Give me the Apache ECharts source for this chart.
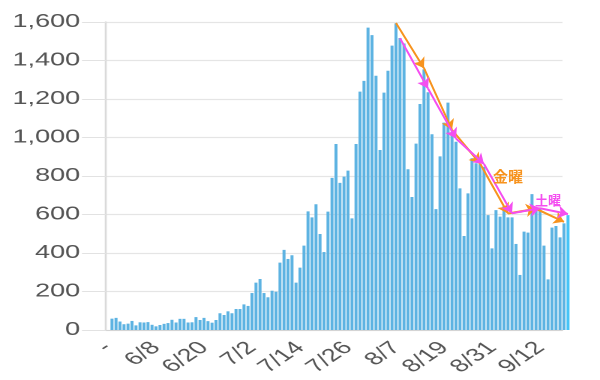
<!DOCTYPE html>
<html><head><meta charset="utf-8">
<script src="https://cdn.jsdelivr.net/npm/echarts@6/dist/echarts.min.js"></script>
<style>
html,body{margin:0;padding:0;background:#fff;}
#wrap{position:relative;width:600px;height:380px;overflow:hidden;background:#fff;}
#base{position:absolute;left:0;top:0;width:400px;height:380px;transform:scaleX(1.5);transform-origin:0 0;}
#over{position:absolute;left:0;top:0;width:600px;height:380px;}
</style></head><body>
<div id="wrap"><div id="base"></div><div id="over"></div></div>
<script>
// ---- data ----
const datesMay = ['5/27','5/28','5/29','5/30','5/31'];
const datesJun = ['6/1','6/2','6/3','6/4','6/5','6/6','6/7','6/8','6/9','6/10','6/11','6/12','6/13','6/14','6/15','6/16','6/17','6/18','6/19','6/20','6/21','6/22','6/23','6/24','6/25','6/26','6/27','6/28','6/29','6/30'];
const datesJul = ['7/1','7/2','7/3','7/4','7/5','7/6','7/7','7/8','7/9','7/10','7/11','7/12','7/13','7/14','7/15','7/16','7/17','7/18','7/19','7/20','7/21','7/22','7/23','7/24','7/25','7/26','7/27','7/28','7/29','7/30','7/31'];
const datesAug = ['8/1','8/2','8/3','8/4','8/5','8/6','8/7','8/8','8/9','8/10','8/11','8/12','8/13','8/14','8/15','8/16','8/17','8/18','8/19','8/20','8/21','8/22','8/23','8/24','8/25','8/26','8/27','8/28','8/29','8/30','8/31'];
const datesSep = ['9/1','9/2','9/3','9/4','9/5','9/6','9/7','9/8','9/9','9/10','9/11','9/12','9/13','9/14','9/15','9/16','9/17','9/18','9/19'];

const casesMay = [null, 59, 63, 44, 30];
const casesJun = [33, 47, 24, 40, 39, 41, 27, 19, 26, 32, 36, 53, 39, 58, 58, 39, 40, 67, 52, 63, 46, 38, 52, 87, 78, 97, 87, 109, 109, 133];
const casesJul = [125, 192, 246, 265, 192, 170, 204, 199, 350, 416, 369, 388, 246, 324, 438, 616, 585, 653, 499, 405, 615, 790, 966, 764, 797, 828, 580, 966, 1238, 1294, 1571];
const casesAug = [1532, 1321, 935, 1233, 1347, 1477, 1593, 1517, 1488, 835, 691, 968, 1174, 1354, 1235, 1017, 628, 902, 1077, 1181, 1030, 978, 736, 488, 710, 892, 866, 862, 848, 597, 424];
const casesSep = [623, 589, 644, 585, 585, 447, 286, 511, 506, 706, 623, 632, 438, 263, 532, 540, 481, 554, 597];

// Friday (金曜) and Saturday (土曜) trend arrows
const fridayDates = ['8/7','8/14','8/21','8/28','9/4','9/11','9/18'];
const fridayValues = [1595, 1360, 1040, 865, 605, 630, 562];
const saturdayDates = ['8/8','8/15','8/22','8/29','9/5','9/12','9/19'];
const saturdayValues = [1515, 1255, 995, 862, 606, 632, 603];
const fridayLabel = '金曜';
const saturdayLabel = '土曜';

const yMin = 0, yMax = 1600, yStep = 200;
const axisLastDate = '9/17';

// ---- build ----
const dates = [].concat(datesMay, datesJun, datesJul, datesAug, datesSep);
const cases = [].concat(casesMay, casesJun, casesJul, casesAug, casesSep);
const axisDates = dates.slice(0, dates.indexOf(axisLastDate) + 1);

const S = 1.5;               // horizontal stretch of the base chart
const plotLeft = 106, axisRight = 562.5, barsRight = 570;
const ORANGE = '#f7931e', MAGENTA = '#f44ff0';
const FONT = 'Liberation Sans';

const base = echarts.init(document.getElementById('base'), null, {renderer:'canvas', width:400, height:380, devicePixelRatio:2});
base.setOption({
  animation: false,
  backgroundColor: '#ffffff',
  grid: [
    {left: plotLeft / S, right: 400 - axisRight / S, top: 22, bottom: 50},
    {left: plotLeft / S, right: 400 - barsRight / S, top: 22, bottom: 50}
  ],
  xAxis: [
    {gridIndex: 0, type: 'category', data: axisDates, boundaryGap: true,
     axisLine: {lineStyle: {color: '#d4d4d4', width: 1}},
     axisTick: {show: false},
     axisLabel: {interval: (i) => i % 12 === 0, rotate: 45, margin: 15, fontSize: 18,
                 color: '#555', fontFamily: FONT,
                 formatter: (v, i) => (i === 0 ? '-' : v)}},
    {gridIndex: 1, type: 'category', data: dates, show: false}
  ],
  yAxis: [
    {gridIndex: 0, type: 'value', min: yMin, max: yMax, interval: yStep,
     axisLine: {show: true, lineStyle: {color: '#dadada', width: 1.3}},
     axisTick: {show: true, length: 16, lineStyle: {color: '#e2e2e2'}},
     splitLine: {lineStyle: {color: '#e5e5e5', width: 1.2}},
     axisLabel: {margin: 17.3, fontSize: 18, color: '#555', fontFamily: FONT,
                 formatter: (v) => v.toLocaleString('en-US')}},
    {gridIndex: 1, type: 'value', min: yMin, max: yMax, show: false}
  ],
  series: [{
    type: 'bar', xAxisIndex: 1, yAxisIndex: 1, data: cases,
    barCategoryGap: '25%',
    itemStyle: {color: (p) => (p.dataIndex === cases.length - 1 ? '#45c4f7' : '#5db3e2')}
  }]
});

function segments(ds, vs) {
  const out = [];
  for (let i = 0; i < ds.length - 1; i++) {
    out.push([{coord: [ds[i], vs[i]]}, {coord: [ds[i + 1], vs[i + 1]]}]);
  }
  return out;
}

const over = echarts.init(document.getElementById('over'), null, {renderer:'canvas', width:600, height:380});
over.setOption({
  animation: false,
  grid: {left: plotLeft, right: 600 - barsRight, top: 22, bottom: 50},
  xAxis: {type: 'category', data: dates, show: false},
  yAxis: {type: 'value', min: yMin, max: yMax, show: false},
  series: [
    {type: 'line', data: [], silent: true,
     markLine: {silent: true, symbol: ['none', 'arrow'], symbolSize: 10,
                lineStyle: {color: ORANGE, width: 2, type: 'solid'},
                label: {show: false}, data: segments(fridayDates, fridayValues)},
     markPoint: {silent: true, symbol: 'circle', symbolSize: 1, itemStyle: {color: 'rgba(0,0,0,0)'},
                 label: {show: true, position: 'inside', formatter: (p) => p.name, color: ORANGE,
                         fontSize: 15, fontWeight: 'bold', fontFamily: 'Noto Sans CJK JP'},
                 data: [{name: fridayLabel, coord: ['9/4', 796]}]}},
    {type: 'line', data: [], silent: true,
     markLine: {silent: true, symbol: ['none', 'arrow'], symbolSize: 10,
                lineStyle: {color: MAGENTA, width: 2, type: 'solid'},
                label: {show: false}, data: segments(saturdayDates, saturdayValues)},
     markPoint: {silent: true, symbol: 'circle', symbolSize: 1, itemStyle: {color: 'rgba(0,0,0,0)'},
                 label: {show: true, position: 'inside', formatter: (p) => p.name, color: MAGENTA,
                         fontSize: 13, fontWeight: 'bold', fontFamily: 'Noto Sans CJK JP'},
                 data: [{name: saturdayLabel, coord: ['9/14', 675]}]}}
  ]
});
</script>
</body></html>
